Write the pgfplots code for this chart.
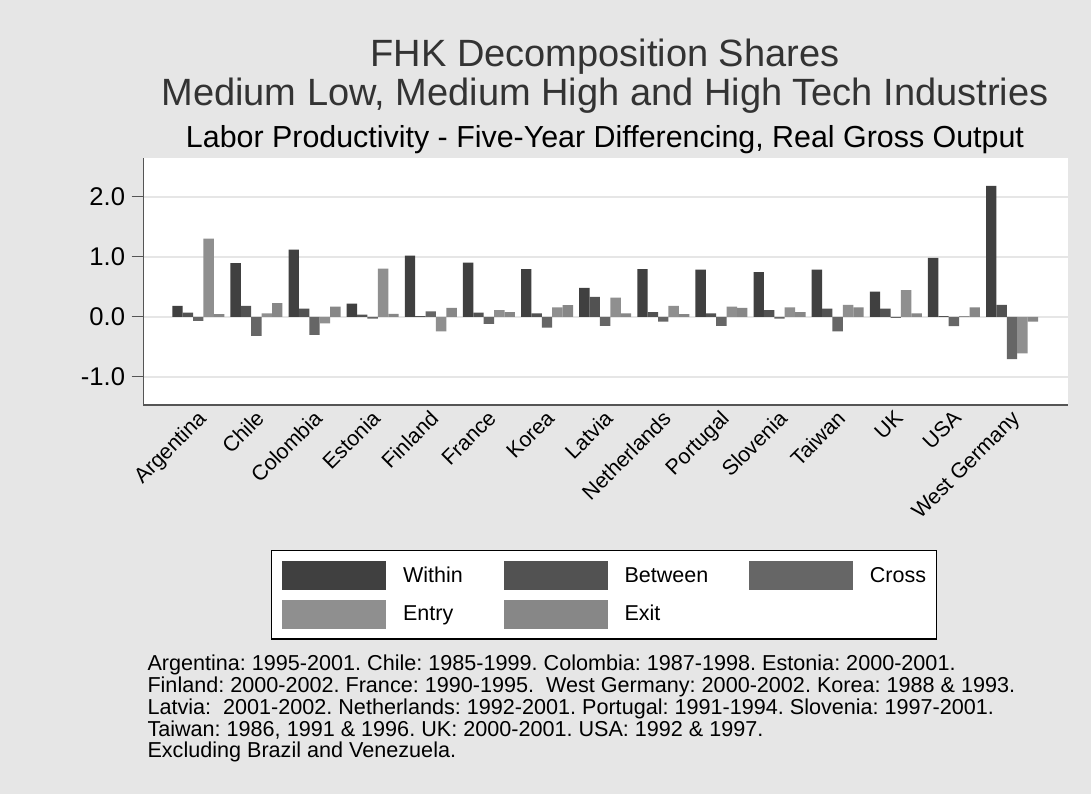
\documentclass[border=0pt]{standalone}
\usepackage{pgfplots}
\usepackage{pgfplotstable}
\pgfplotsset{compat=1.18}
\usepackage{fontspec}
\setmainfont{Liberation Sans}
\frenchspacing
\definecolor{bg}{RGB}{230,230,230}
\definecolor{gridgray}{RGB}{230,230,230}
\definecolor{axisgray}{RGB}{85,85,85}
\definecolor{titlegray}{RGB}{51,51,51}
\definecolor{cW}{RGB}{64,64,64}
\definecolor{cB}{RGB}{82,82,82}
\definecolor{cC}{RGB}{102,102,102}
\definecolor{cEn}{RGB}{143,143,143}
\definecolor{cEx}{RGB}{135,135,135}
\pgfplotsset{
  bigswatch/.style={legend image code/.code={\fill[fill=#1] (0pt,-14.5pt) rectangle (104pt,14.5pt);}},
}
\pgfplotstableread{
x W B C En Ex
0 0.18 0.07 -0.07 1.30 0.045
1 0.895 0.18 -0.32 0.056 0.228
2 1.12 0.135 -0.30 -0.11 0.17
3 0.22 0.035 -0.03 0.80 0.05
4 1.02 0.01 0.09 -0.245 0.15
5 0.90 0.067 -0.12 0.11 0.078
6 0.795 0.056 -0.18 0.156 0.195
7 0.48 0.33 -0.15 0.32 0.056
8 0.795 0.078 -0.083 0.18 0.045
9 0.785 0.056 -0.15 0.167 0.15
10 0.745 0.11 -0.03 0.156 0.078
11 0.785 0.135 -0.245 0.20 0.156
12 0.417 0.135 -0.02 0.445 0.056
13 0.98 0.01 -0.155 0.01 0.156
14 2.18 0.20 -0.705 -0.61 -0.083
}\datatable
\begin{document}
\begin{tikzpicture}
\fill[bg] (0pt,0pt) rectangle (1091pt,794pt);
\begin{axis}[
  at={(143.3pt,389pt)}, anchor=south west,
  scale only axis, width=924.4pt, height=247pt,
  xmin=-0.946, xmax=14.958, ymin=-1.47, ymax=2.645,
  axis background/.style={fill=white},
  axis lines*=left,
  axis line style={draw=axisgray, line width=1.6pt},
  ybar=0pt, bar width=10.4pt,
  xtick={0,...,14},
  xticklabels={Argentina,Chile,Colombia,Estonia,Finland,France,Korea,Latvia,Netherlands,Portugal,Slovenia,Taiwan,UK,USA,West Germany},
  xtick style={draw=none},
  ytick={-1,0,1,2}, yticklabels={-1.0,0.0,1.0,2.0},
  ytick style={draw=axisgray, line width=1.4pt},
  tick align=outside, major tick length=11.6pt,
  ymajorgrids, grid style={draw=gridgray, line width=2pt},
  yticklabel style={font=\fontsize{25.6pt}{30pt}\selectfont, inner sep=0pt, xshift=-6.5pt},
  xticklabel style={yshift=7.6pt, xshift=-2pt, rotate=45, anchor=north east, inner sep=0pt, font=\fontsize{21.3pt}{26pt}\selectfont},
  legend columns=3,
  legend cell align=left,
  legend style={
    at={(0.1381,-0.587)}, anchor=north west,
    draw=black, line width=1.3pt, fill=white,
    inner xsep=10.5pt, inner ysep=10.5pt,
    font=\fontsize{21.5pt}{25pt}\selectfont,
    row sep=9.5pt,
    nodes={inner sep=0pt, text height=17pt, text depth=3.5pt},
    /tikz/every odd column/.append style={column sep=17pt},
    /tikz/every even column/.append style={column sep=40.7pt},
  },
]
\addplot[fill=cW, draw=none, bigswatch=cW] table[x=x,y=W]{\datatable};
\addplot[fill=cB, draw=none, bigswatch=cB] table[x=x,y=B]{\datatable};
\addplot[fill=cC, draw=none, bigswatch=cC] table[x=x,y=C]{\datatable};
\addplot[fill=cEn, draw=none, bigswatch=cEn] table[x=x,y=En]{\datatable};
\addplot[fill=cEx, draw=none, bigswatch=cEx] table[x=x,y=Ex]{\datatable};
\legend{Within,Between,Cross,Entry,Exit}
\end{axis}
\node[anchor=base, text=titlegray, font=\fontsize{38pt}{46pt}\selectfont] at (605pt,727.3pt) {FHK Decomposition Shares};
\node[anchor=base, text=titlegray, font=\fontsize{38pt}{46pt}\selectfont] at (605pt,688pt) {Medium Low, Medium High and High Tech Industries};
\node[anchor=base, text=black, font=\fontsize{30.4pt}{36pt}\selectfont] at (605pt,646.7pt) {Labor Productivity - Five-Year Differencing, Real Gross Output};
\begin{scope}[every node/.style={anchor=base west, inner sep=0pt, font=\fontsize{21.6pt}{25pt}\selectfont}]
\node at (147.3pt,123.3pt) {Argentina: 1995-2001. Chile: 1985-1999. Colombia: 1987-1998. Estonia: 2000-2001.};
\node at (147.3pt,101.5pt) {Finland: 2000-2002. France: 1990-1995.\ \ West Germany: 2000-2002. Korea: 1988 \& 1993.};
\node at (147.3pt,79.7pt) {Latvia:\ \ 2001-2002. Netherlands: 1992-2001. Portugal: 1991-1994. Slovenia: 1997-2001.};
\node at (147.3pt,57.9pt) {Taiwan: 1986, 1991 \& 1996. UK: 2000-2001. USA: 1992 \& 1997.};
\node at (147.3pt,36.1pt) {Excluding Brazil and Venezuela.};
\end{scope}
\pgfresetboundingbox
\useasboundingbox (0pt,0pt) rectangle (1091pt,794pt);
\end{tikzpicture}
\end{document}
